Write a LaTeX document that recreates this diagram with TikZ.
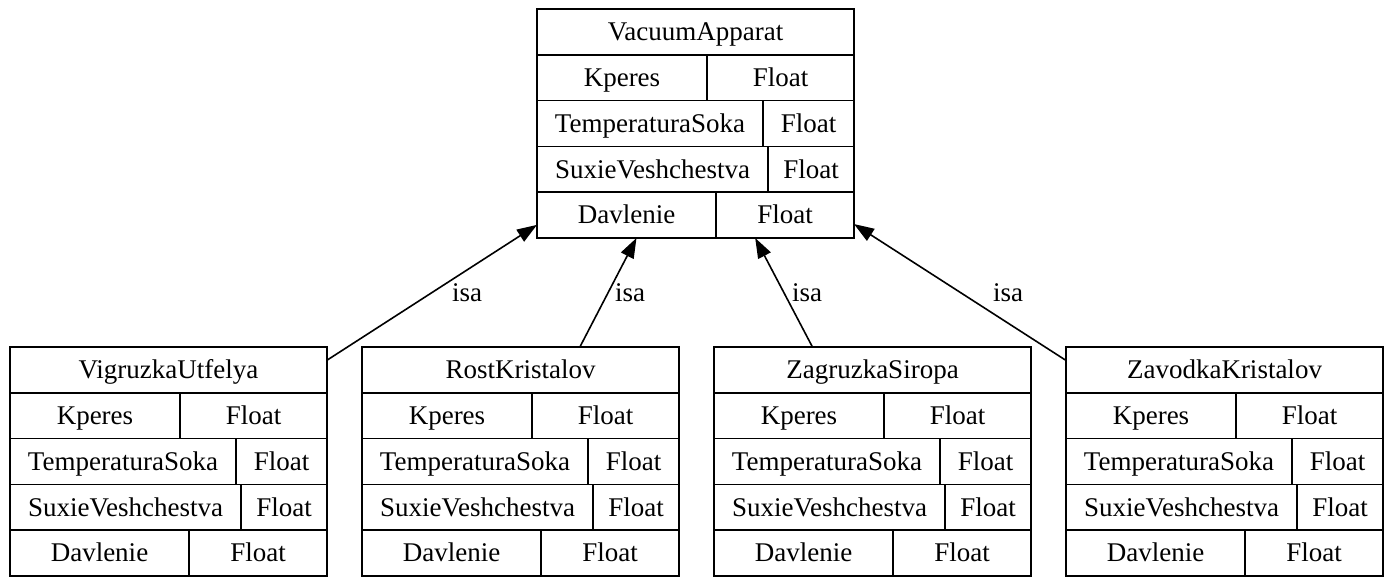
\documentclass[tikz,border=0pt]{standalone}
\usepackage{fontspec}
\setmainfont{Liberation Serif}
\usetikzlibrary{arrows.meta}
\tikzset{
  rec/.style={draw, line width=1.6pt, minimum width=317pt, minimum height=229pt, inner sep=0pt, outer sep=0pt},
  cell/.style={draw, line width=1.6pt, minimum height=45.8pt, inner sep=0pt, outer sep=0pt, text height=23pt, text depth=5.4pt, font=\fontsize{27}{31}\selectfont},
  isa/.style={line width=1.6pt, -{Triangle[length=20pt,width=14pt]}},
  lbl/.style={font=\fontsize{27}{31}\selectfont, inner sep=0pt}
}
\newcommand\recrow[6]{%
  \node[cell, minimum width=#4pt] (#1a) at ({#2+#4/2}, #3) {#5};
  \node[cell, minimum width={(317-#4)*1pt}] (#1b) at ({#2+#4+(317-#4)/2}, #3) {#6};
}
\newcommand\recbox[4]{%
  \node[rec] (#1) at ({#2+158.5}, {#3+114.5}) {};
  \node[cell, minimum width=317pt] (#1-t) at ({#2+158.5}, {#3+22.9}) {#4};
  \recrow{#1-k}{#2}{#3+68.7}{170}{Kperes}{Float}
  \recrow{#1-ts}{#2}{#3+114.5}{226}{TemperaturaSoka}{Float}
  \recrow{#1-sv}{#2}{#3+160.3}{231}{SuxieVeshchestva}{Float}
  \recrow{#1-d}{#2}{#3+206.1}{179}{Davlenie}{Float}
}
\begin{document}
\begin{tikzpicture}[x=1pt, y=-1pt]
\useasboundingbox (0,0) rectangle (1385,578);
\recbox{top}{537}{9}{VacuumApparat}
\recbox{vu}{10}{347}{VigruzkaUtfelya}
\recbox{rk}{362}{347}{RostKristalov}
\recbox{zs}{714}{347}{ZagruzkaSiropa}
\recbox{zk}{1066}{347}{ZavodkaKristalov}
\draw[isa] (vu) -- (top);
\draw[isa] (rk) -- (top);
\draw[isa] (zs) -- (top);
\draw[isa] (zk) -- (top);
\node[lbl] (l1) at (467,293) {isa};
\node[lbl] (l2) at (630,293) {isa};
\node[lbl] (l3) at (807,293) {isa};
\node[lbl] (l4) at (1008,293) {isa};
\end{tikzpicture}
\end{document}
